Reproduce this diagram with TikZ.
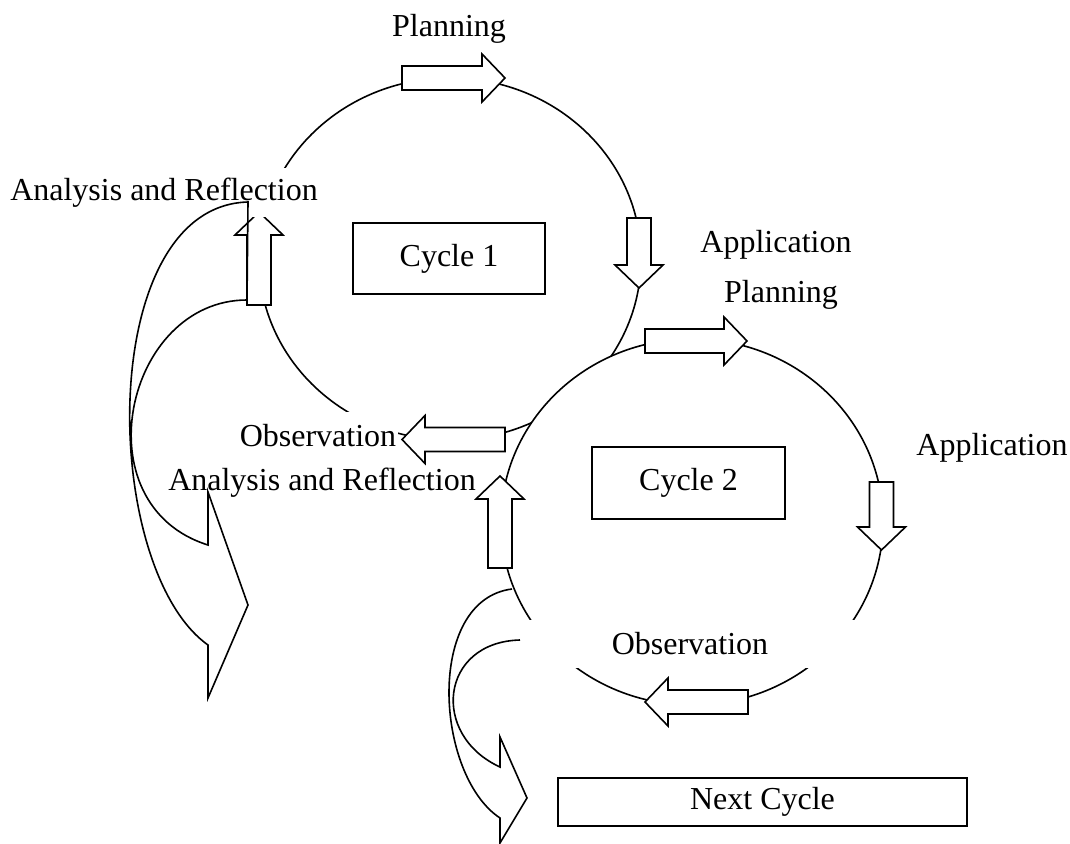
\documentclass[tikz,border=0pt]{standalone}
\usepackage{fontspec}
\setmainfont{Liberation Serif}

% block arrow: tail x, tail y, direction, length
\newcommand{\blockarrow}[4]{%
  \begin{scope}[shift={(#1,#2)},rotate=#3]
    \draw[fill=white] (0,-12) -- ({#4-23},-12) -- ({#4-23},-24) -- (#4,0)
      -- ({#4-23},24) -- ({#4-23},12) -- (0,12) -- cycle;
  \end{scope}}

\tikzset{
  lbl/.style={anchor=base, inner sep=0pt},
  mask/.style={fill=white, inner sep=0pt},
  cyclebox/.style={draw, fill=white, inner sep=0pt}
}

\begin{document}
\begin{tikzpicture}[x=0.5pt, y=0.5pt, line width=0.8pt, font=\fontsize{16}{19}\selectfont]
            \useasboundingbox (0,0) rectangle (1070,-844);

            \coordinate (C1) at (450,-259);
            \coordinate (C2) at (692,-522);

            % cycle 1
            \draw (C1) ellipse [x radius=191, y radius=181];

            \blockarrow{402}{-78}{0}{103}
            \blockarrow{639}{-218}{-90}{70}
            \blockarrow{259}{-305}{90}{93}
            \blockarrow{505}{-439.5}{180}{103}

            \node[mask, minimum height=24.5pt, inner xsep=3pt] (anal1) at (164,-193) {Analysis and Reflection};
            \node[mask, minimum height=24.5pt, inner xsep=1pt] (obs1) at (318,-436) {Observation};

            \draw (248,-202) .. controls (95,-206) and (100,-568) .. (208,-645)
              -- (208,-698) -- (248,-605) -- (208,-492) -- (208,-545)
              .. controls (80,-505) and (125,-300) .. (247,-300) -- cycle;

            % cycle 2
            \draw[fill=white] (C2) ellipse [x radius=191, y radius=183];

            \blockarrow{645}{-341}{0}{102}
            \blockarrow{881.5}{-482}{-90}{68}
            \blockarrow{500}{-568}{90}{92}
            \blockarrow{748}{-702}{180}{103}

            \node[mask, minimum width=170pt, minimum height=24pt] (obs2) at (690,-644) {Observation};

            \draw (512,-589) .. controls (425,-600) and (435,-775) .. (500,-818)
              -- (500,-843) -- (527,-798) -- (500,-737) -- (500,-767)
              .. controls (430,-735) and (440,-642) .. (520,-640);

            % boxes and labels
            \node[cyclebox, minimum width=96pt, minimum height=35.5pt] (cyc1) at (449,-258.5) {Cycle 1};
            \node[cyclebox, minimum width=96.5pt, minimum height=36pt] (cyc2) at (688.5,-483) {Cycle 2};
            \node[cyclebox, minimum width=204.5pt, minimum height=24pt] (next) at (762.5,-802) {Next Cycle};

            \node[lbl] (plan1) at (449,-37) {Planning};
            \node[lbl] (app1) at (776,-253) {Application};
            \node[lbl] (plan2) at (781,-303) {Planning};
            \node[lbl] (app2) at (992,-455) {Application};
            \node[lbl] (anal2) at (322,-490) {Analysis and Reflection};
        \end{tikzpicture}
\end{document}
